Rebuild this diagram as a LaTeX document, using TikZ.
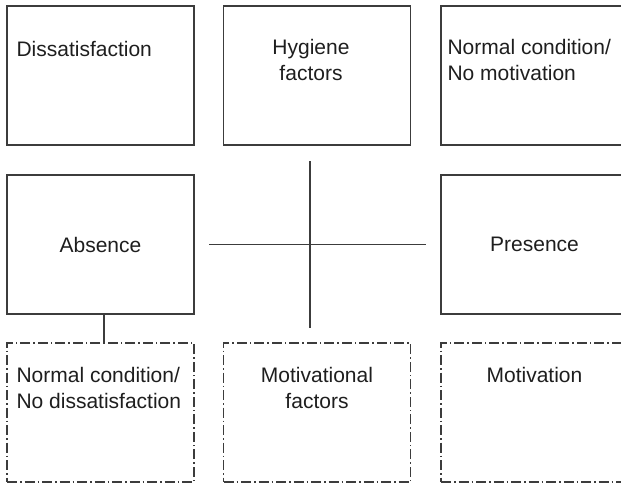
\documentclass[tikz,border=0pt]{standalone}
\usepackage{fontspec}
\setmainfont{Liberation Sans}
\usetikzlibrary{positioning}
\definecolor{linecol}{RGB}{60,60,60}
\definecolor{txtcol}{RGB}{30,30,30}
\newcommand{\cellfont}{\fontsize{21}{26}\selectfont}

\begin{document}
\begin{tikzpicture}[x=1pt,y=-1pt,
  cell/.style={rectangle,draw=linecol,line width=1.3pt,minimum width=187pt,
               minimum height=139pt,inner sep=0pt,font=\cellfont,text=txtcol},
  dashcell/.style={cell,dash pattern=on 10pt off 3pt on 1.5pt off 3pt},
  lbl/.style={font=\cellfont,text=txtcol,inner sep=0pt},
  axis/.style={draw=linecol,line width=1.3pt}
]
\useasboundingbox (0,0) rectangle (621,484);
\clip (0,0) rectangle (621,484);
% top row
\node[cell] (dis)   at (100.5,75.5) {};
\node[cell] (hyg)   at (317,75.5)   {};
\node[cell] (nomot) at (534.5,75.5) {};
% middle row
\node[cell] (abs)   at (100.5,244.5) {Absence};
\node[cell] (pres)  at (534.5,244.5) {Presence};
% bottom row
\node[dashcell] (nodis) at (100.5,412.5) {};
\node[dashcell] (motf)  at (317,412.5)   {};
\node[dashcell] (mot)   at (534.5,412.5) {};
% texts
\node[lbl,anchor=north west] (disT) at ([shift={(10,36)}]dis.north west) {Dissatisfaction};
\node[lbl,anchor=north,align=center] (hygT) at ([shift={(-6,34)}]hyg.north) {Hygiene\\factors};
\node[lbl,anchor=north west,align=left] (nomotT) at ([shift={(7,34)}]nomot.north west) {Normal condition/\\No motivation};
\node[lbl,anchor=north west,align=left] (nodisT) at ([shift={(10,25)}]nodis.north west) {Normal condition/\\No dissatisfaction};
\node[lbl,anchor=north,align=center] (motfT) at ([shift={(0,25)}]motf.north) {Motivational\\factors};
\node[lbl,anchor=north] (motT) at ([shift={(0,25)}]mot.north) {Motivation};
% cross
\coordinate (hl) at (209,244.5);
\coordinate (hr) at (426,244.5);
\coordinate (vt) at (310,161);
\coordinate (vb) at (310,328);
\draw[axis] (hl) -- (hr);
\draw[axis] (vt) -- (vb);
\draw[axis] ([xshift=3.5pt]abs.south) -- ([xshift=3.5pt]nodis.north);
\end{tikzpicture}
\end{document}
